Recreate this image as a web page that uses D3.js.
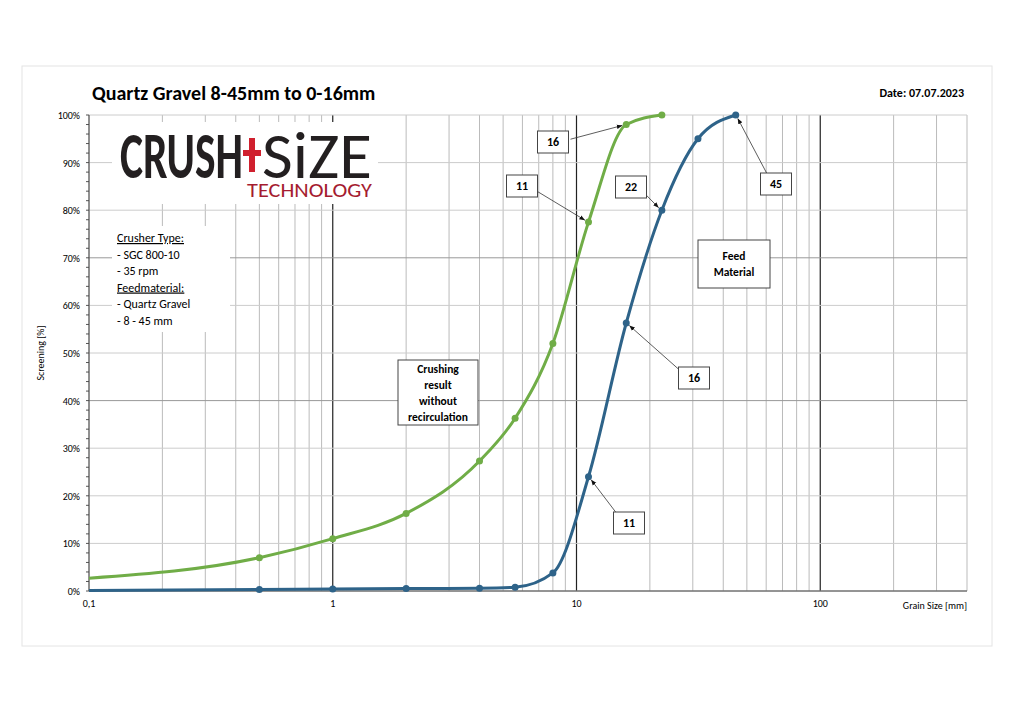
<!DOCTYPE html><html><head><meta charset="utf-8"><script src="https://cdn.jsdelivr.net/npm/d3@7"></script>
<style>body{margin:0;background:#fff}text{font-family:Calibri,Carlito,"Liberation Sans",Arial,sans-serif}</style></head><body>
<svg id="c" width="1024" height="724"></svg>
<script>
const greenSize=[0.1,0.5,1,2,4,5.6,8,11.2,16,22.4];
const greenVal=[2.7,7,11,16.3,27.3,36.3,52,77.5,98,100];
const blueSize=[0.1,0.5,1,2,4,5.6,8,11.2,16,22.4,31.5,45];
const blueVal=[0.1,0.3,0.4,0.5,0.6,0.8,3.8,24,56.3,80,95,100];
const yTicks=[0,10,20,30,40,50,60,70,80,90,100];
const xTickLabels=[[0.1,"0,1"],[1,"1"],[10,"10"],[100,"100"]];
const notes=[
 ["16",[553,142],[16,98]],["11",[522,186],[11.2,77.5]],["22",[631,187],[22.4,80]],
 ["45",[776,184],[45,100]],["16",[694,378],[16,56.3]],["11",[629,523],[11.2,24]]];
const svg=d3.select("#c");
svg.append("rect").attr("x",22).attr("y",66).attr("width",970).attr("height",580).attr("fill","#fff").attr("stroke","#e4e4e4");
const x=d3.scaleLog().domain([0.1,400]).range([89,967]);
const y=d3.scaleLinear().domain([0,100]).range([591,115]);
const g=svg.append("g");
const minors=[];for(let d=0.1;d<400;d*=10)for(let k=1;k<10;k++){const v=+(d*k).toPrecision(3);if(v<=400)minors.push(v);}
minors.forEach(v=>{const major=[1,10,100].includes(v);g.append("line").attr("x1",x(v)).attr("x2",x(v)).attr("y1",115).attr("y2",591).attr("stroke",major?"#222":"#bbb").attr("stroke-width",major?1.2:1);});
yTicks.forEach(v=>{g.append("line").attr("x1",89).attr("x2",967).attr("y1",y(v)).attr("y2",y(v)).attr("stroke",v==40||v==70?"#999":"#ccc");
 g.append("text").attr("x",80).attr("y",y(v)+4).attr("text-anchor","end").attr("font-size",10).text(v+"%");});
for(let v=0;v<=100;v+=2)g.append("line").attr("x1",86).attr("x2",89).attr("y1",y(v)).attr("y2",y(v)).attr("stroke","#555");
g.append("line").attr("x1",89).attr("x2",89).attr("y1",115).attr("y2",591).attr("stroke","#444");
g.append("line").attr("x1",89).attr("x2",967).attr("y1",591).attr("y2",591).attr("stroke","#444");
xTickLabels.forEach(([v,t])=>g.append("text").attr("x",x(v)).attr("y",607).attr("text-anchor","middle").attr("font-size",10).text(t));
g.append("text").attr("x",967).attr("y",609).attr("text-anchor","end").attr("font-size",10).text("Grain Size [mm]");
g.append("text").attr("transform","translate(44,353) rotate(-90)").attr("text-anchor","middle").attr("font-size",10).text("Screening [%]");
// logo
svg.append("rect").attr("x",112).attr("y",122).attr("width",266).attr("height",82).attr("fill","#fff");
function fit(t,x0,x1,base,size,col,weight){
 const el=svg.append("text").attr("font-family","'DejaVu Sans Condensed','DejaVu Sans',sans-serif").attr("font-weight",weight).attr("font-size",size).attr("fill",col).text(t);
 const w=el.node().getComputedTextLength();
 el.attr("transform",`translate(${x0},${base}) scale(${(x1-x0)/w},1)`);}
fit("CRUSH",120,243,178,66,"#231f20","bold");
fit("SiZE",262,372,178,66,"#231f20","normal");
svg.append("rect").attr("x",249).attr("y",138).attr("width",6).attr("height",34).attr("fill","#d0202e");
svg.append("rect").attr("x",243).attr("y",150).attr("width",18).attr("height",6).attr("fill","#d0202e");
fit("TECHNOLOGY",247,372,197,20,"#a51c30","normal");
svg.append("rect").attr("x",112).attr("y",226).attr("width",118).attr("height",106).attr("fill","#fff");
["Crusher Type:","- SGC 800-10","- 35 rpm","Feedmaterial:","- Quartz Gravel","- 8 - 45 mm"].forEach((t,i)=>
 svg.append("text").attr("x",117).attr("y",242+i*16.5).attr("font-size",12).attr("text-decoration",i==0||i==3?"underline":null).text(t));
const line=d3.line().x(d=>x(d[0])).y(d=>y(d[1])).curve(d3.curveMonotoneX);
function series(xs,ys,col){const d=xs.map((v,i)=>[v,ys[i]]);
 svg.append("path").attr("d",line(d)).attr("fill","none").attr("stroke",col).attr("stroke-width",3);
 svg.selectAll(null).data(d.slice(1)).join("circle").attr("cx",p=>x(p[0])).attr("cy",p=>y(p[1])).attr("r",3.5).attr("fill",col);}
series(greenSize,greenVal,"#70ad47");
series(blueSize,blueVal,"#2e6389");
svg.append("defs").append("marker").attr("id","ar").attr("viewBox","0 0 10 10").attr("refX",10).attr("refY",5).attr("markerWidth",7).attr("markerHeight",7).attr("orient","auto").append("path").attr("d","M0,1L10,5L0,9z").attr("fill","#111");
notes.forEach(([t,[bx,by],[dx,dy]])=>{
 const tx=x(dx),ty=y(dy),w=31,h=22;
 const ang=Math.atan2(ty-by,tx-bx);
 const sx=bx+Math.cos(ang)*18,sy=by+Math.sin(ang)*12;
 svg.append("line").attr("x1",sx).attr("y1",sy).attr("x2",tx-Math.cos(ang)*4).attr("y2",ty-Math.sin(ang)*4).attr("stroke","#333").attr("stroke-width",0.8).attr("marker-end","url(#ar)");
 svg.append("rect").attr("x",bx-w/2).attr("y",by-h/2).attr("width",w).attr("height",h).attr("fill","#fff").attr("stroke","#444");
 svg.append("text").attr("x",bx).attr("y",by+4).attr("text-anchor","middle").attr("font-size",12).attr("font-weight","bold").text(t);});
function box(x0,y0,w,h,lines){svg.append("rect").attr("x",x0).attr("y",y0).attr("width",w).attr("height",h).attr("fill","#fff").attr("stroke","#444");
 lines.forEach((t,i)=>svg.append("text").attr("x",x0+w/2).attr("y",y0+h/2+4+(i-(lines.length-1)/2)*16).attr("text-anchor","middle").attr("font-size",11.5).attr("font-weight","bold").text(t));}
box(698,240,72,48,["Feed","Material"]);
box(398,360,80,65,["Crushing","result","without","recirculation"]);
svg.append("text").attr("x",92).attr("y",100).attr("font-size",20).attr("font-weight","bold").text("Quartz Gravel 8-45mm to 0-16mm");
svg.append("text").attr("x",964).attr("y",97).attr("text-anchor","end").attr("font-size",12).attr("font-weight","bold").text("Date: 07.07.2023");
</script></body></html>
